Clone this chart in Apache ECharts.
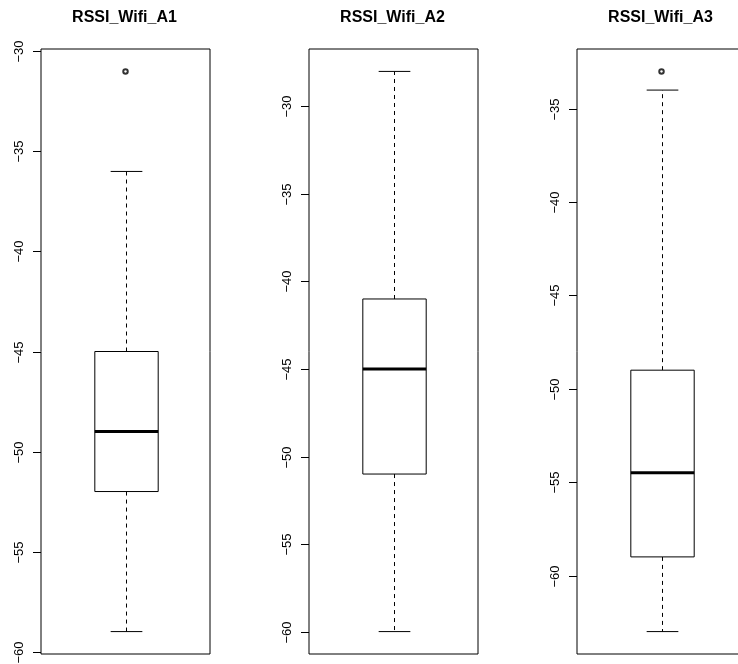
<!DOCTYPE html>
<html>
<head>
<meta charset="utf-8">
<script src="https://cdn.jsdelivr.net/npm/echarts@6/dist/echarts.min.js"></script>
<style>
  html, body { margin: 0; padding: 0; background: #ffffff; overflow: hidden; }
  #chart { width: 760px; height: 664px; }
</style>
</head>
<body>
<div id="chart"></div>
<script>
// Five-number summaries for the three access points (dBm)
const titles        = ['RSSI_Wifi_A1', 'RSSI_Wifi_A2', 'RSSI_Wifi_A3'];
const lowerWhisker  = [-59, -60, -63];
const lowerQuartile = [-52, -51, -59];
const medians       = [-49, -45, -54.5];
const upperQuartile = [-45, -41, -49];
const upperWhisker  = [-36, -28, -34];
const outliers      = [[-31], [], [-33]];

// Tick labels on each panel's y axis
const tickValues = [
  [-60, -55, -50, -45, -40, -35, -30],
  [-60, -55, -50, -45, -40, -35, -30],
  [-60, -55, -50, -45, -40, -35]
];

const FONT = '"Liberation Sans", Arial, Helvetica, sans-serif';
const panelLeft = [41, 309, 577];
const panelWidth = 169;
const panelTop = 49;
const panelHeight = 605;
const boxHalf = 0.195;   // half box width in x-axis units
const capHalf = 0.0975;  // half whisker-cap width

// y range: data extent padded by 4% on each side
function yRange(i) {
  const vals = [lowerWhisker[i], upperWhisker[i]].concat(outliers[i]);
  const lo = Math.min.apply(null, vals);
  const hi = Math.max.apply(null, vals);
  const pad = 0.04 * (hi - lo);
  return [lo - pad, hi + pad];
}

const minus = v => String(v).replace('-', '\u2212');

const grids = [], xAxes = [], yAxes = [], series = [], titleList = [];

titles.forEach((name, i) => {
  const [ymin, ymax] = yRange(i);
  grids.push({
    left: panelLeft[i], top: panelTop, width: panelWidth, height: panelHeight,
    outerBoundsMode: 'none',
    show: true, borderColor: '#000', borderWidth: 1, backgroundColor: 'transparent'
  });
  xAxes.push({ type: 'value', gridIndex: i, min: 0.48, max: 1.52, show: false });
  yAxes.push({ type: 'value', gridIndex: i, min: ymin, max: ymax, show: false });
  titleList.push({
    text: name,
    left: panelLeft[i] + panelWidth / 2 - 1,
    top: 10,
    padding: 0,
    textAlign: 'center',
    textStyle: { fontFamily: FONT, fontSize: 16, fontWeight: 'bold', color: '#000' }
  });

  // y-axis ticks and rotated labels, placed with the panel's y scale
  series.push({
    type: 'custom',
    xAxisIndex: i, yAxisIndex: i,
    clip: false, silent: true,
    data: tickValues[i].map(v => [1, v]),
    renderItem(params, api) {
      const v = api.value(1);
      const yy = Math.round(api.coord([api.value(0), v])[1]) + 0.5;
      const x0 = params.coordSys.x;
      return {
        type: 'group',
        children: [
          { type: 'line', shape: { x1: x0 - 8, y1: yy, x2: x0, y2: yy },
            style: { stroke: '#000', lineWidth: 1 } },
          { type: 'text', x: x0 - 22, y: yy, rotation: Math.PI / 2,
            style: { text: minus(v), fill: '#000', font: '13px ' + FONT,
                     align: 'center', verticalAlign: 'middle' } }
        ]
      };
    }
  });

  // box, median, dashed whiskers and caps
  series.push({
    type: 'custom',
    xAxisIndex: i, yAxisIndex: i,
    clip: false,
    data: [[1, lowerWhisker[i], lowerQuartile[i], medians[i], upperQuartile[i], upperWhisker[i]]],
    renderItem(params, api) {
      const xv = api.value(0);
      const lw = api.value(1), q1 = api.value(2), md = api.value(3), q3 = api.value(4), uw = api.value(5);
      const cx = Math.round(api.coord([xv, md])[0]) + 0.5;
      const y = v => api.coord([xv, v])[1];
      const hb = api.size([boxHalf, 0])[0];
      const hc = api.size([capHalf, 0])[0];
      const thin = { stroke: '#000', lineWidth: 1, fill: null };
      const dashed = { stroke: '#000', lineWidth: 1, lineDash: [4, 4], fill: null };
      return {
        type: 'group',
        children: [
          { type: 'line', shape: { x1: cx, y1: y(q3), x2: cx, y2: y(uw) }, style: dashed },
          { type: 'line', shape: { x1: cx, y1: y(q1), x2: cx, y2: y(lw) }, style: dashed },
          { type: 'line', shape: { x1: cx - hc, y1: y(uw), x2: cx + hc, y2: y(uw) }, style: thin },
          { type: 'line', shape: { x1: cx - hc, y1: y(lw), x2: cx + hc, y2: y(lw) }, style: thin },
          { type: 'rect', shape: { x: cx - hb, y: y(q3), width: 2 * hb, height: y(q1) - y(q3) },
            style: { stroke: '#000', lineWidth: 1, fill: '#fff' } },
          { type: 'line', shape: { x1: cx - hb, y1: y(md), x2: cx + hb, y2: y(md) },
            style: { stroke: '#000', lineWidth: 3 } }
        ]
      };
    }
  });

  series.push({
    type: 'scatter',
    xAxisIndex: i, yAxisIndex: i,
    symbol: 'emptyCircle', symbolSize: 4.5,
    itemStyle: { color: '#000', borderColor: '#000', borderWidth: 1 },
    data: outliers[i].map(v => [1, v])
  });
});

const chart = echarts.init(document.getElementById('chart'), null, { renderer: 'canvas' });
chart.setOption({
  animation: false,
  backgroundColor: '#fff',
  title: titleList,
  grid: grids,
  xAxis: xAxes,
  yAxis: yAxes,
  series: series
});
</script>
</body>
</html>
